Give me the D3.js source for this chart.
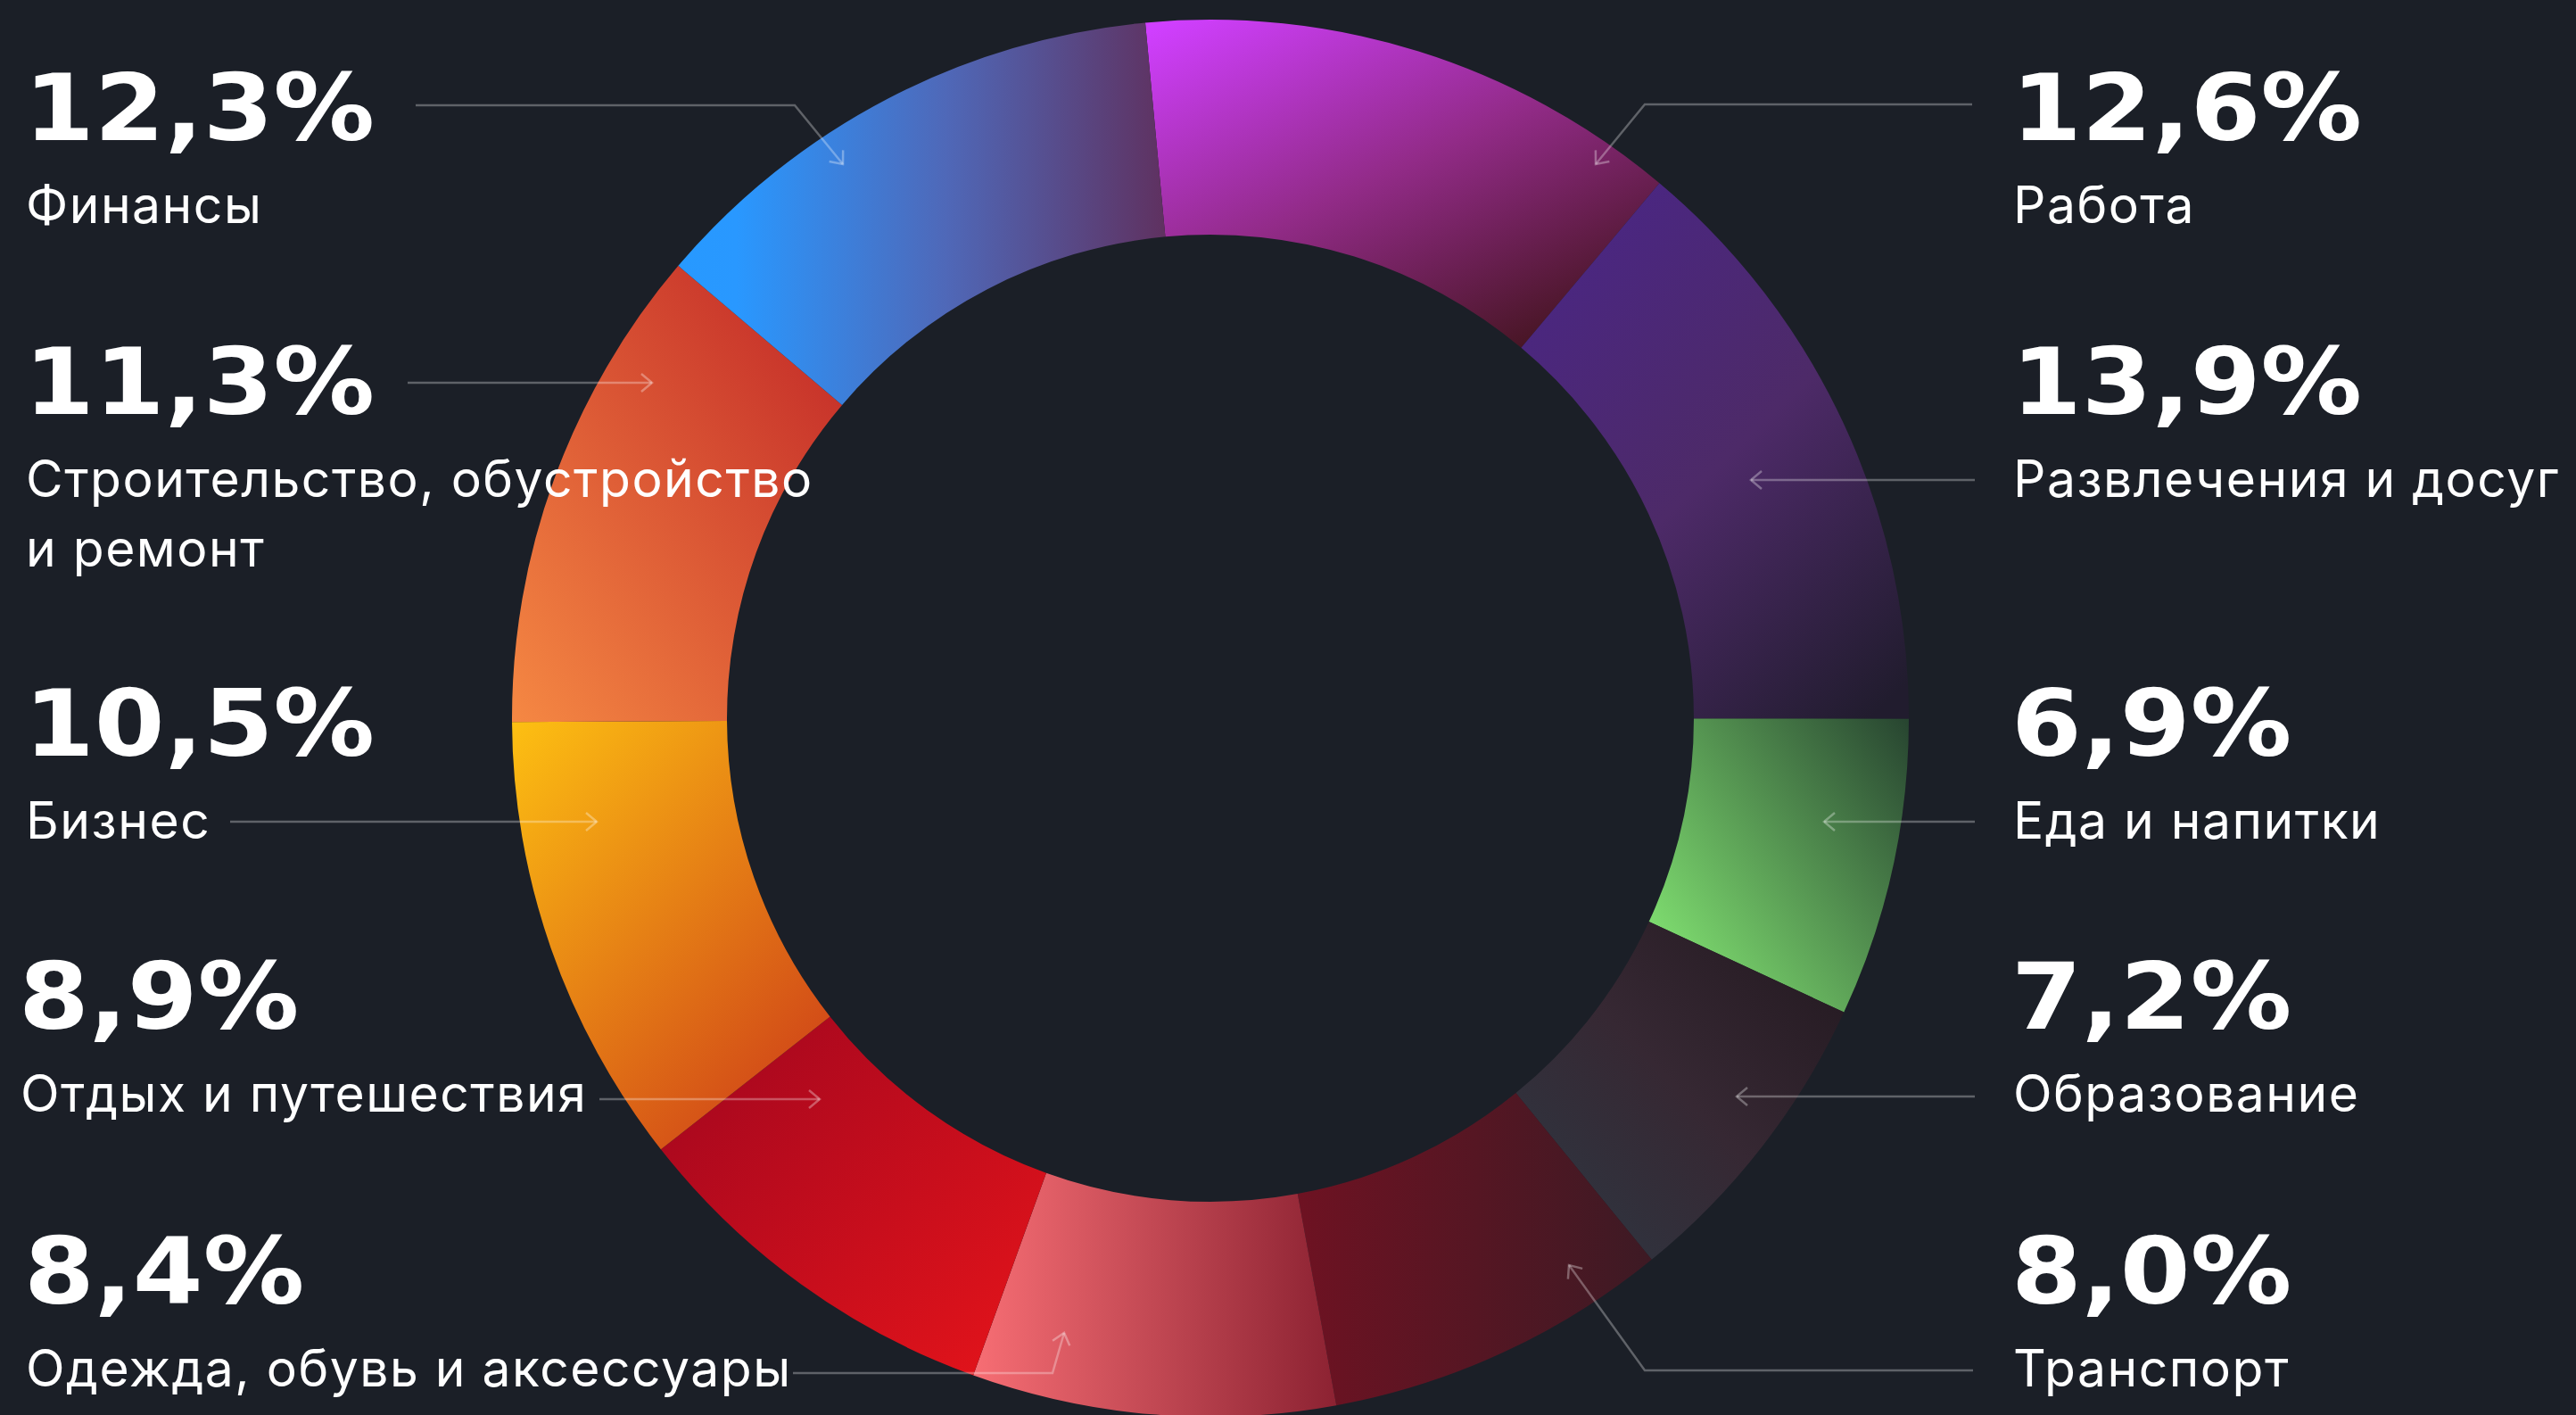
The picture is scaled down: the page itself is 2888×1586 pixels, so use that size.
<!DOCTYPE html>
<html>
<head>
<meta charset="utf-8">
<script src="https://cdn.jsdelivr.net/npm/d3@7.9.0/dist/d3.min.js"></script>
<style>
  html, body { margin: 0; padding: 0; background: #1b1f27; }
  svg { display: block; }
  .pct { font-family: "DejaVu Sans"; font-weight: bold; font-size: 103px; fill: #fff; }
  .lbl { font-family: Inter, "Noto Sans"; font-size: 57px; letter-spacing: 1.5px; fill: #fff; }
  .leader { fill: none; stroke: rgba(255,255,255,0.3); stroke-width: 2.5; }
</style>
</head>
<body>
<svg id="chart"></svg>
<script>
// --- data ---
const categories = [
  'Работа', 'Развлечения и досуг', 'Еда и напитки', 'Образование', 'Транспорт',
  'Одежда, обувь и аксессуары', 'Отдых и путешествия', 'Бизнес',
  'Строительство, обустройство и ремонт', 'Финансы'
];
const values = [12.6, 13.9, 6.9, 7.2, 8.0, 8.4, 8.9, 10.5, 11.3, 12.3];
// label text split into lines as in the picture
const labelLines = [
  ['Работа'], ['Развлечения и досуг'], ['Еда и напитки'], ['Образование'], ['Транспорт'],
  ['Одежда, обувь и аксессуары'], ['Отдых и путешествия'], ['Бизнес'],
  ['Строительство, обустройство', 'и ремонт'], ['Финансы']
];
// gradient stops per slice [offset, colour]
const sliceStops = [
  [[0, '#d03fff'], [0.5, '#922b88'], [1, '#43141e']],
  [[0, '#4a2684'], [0.5, '#4d2a68'], [1, '#211c2e']],
  [[0, '#82e372'], [1, '#274430']],
  [[0, '#2d3843'], [0.5, '#362833'], [1, '#22181f']],
  [[0, '#6e1222'], [1, '#3d1a24']],
  [[0, '#f76e74'], [1, '#8c2232']],
  [[0, '#a0061f'], [1, '#e6141a']],
  [[0, '#fdc012'], [1, '#cf4218']],
  [[0, '#c02526'], [1, '#f58843']],
  [[0, '#2799ff'], [0.12, '#2998ff'], [0.55, '#4f68b8'], [1, '#5f3160']]
];
// gradient direction per slice (bounding box fractions x1,y1,x2,y2)
const sliceDir = [
  [0.05, 0, 0.8, 1], [0.2, 0, 0.9, 1], [0, 0.8, 1, 0], [0, 1, 1, 0], [0, 0, 1, 0],
  [0, 0, 1, 0], [0, 0, 1, 1], [0, 0, 0.8, 1], [1, 0, 0, 1], [0, 0, 1, 0]
];

// --- layout ---
const width = 2888, height = 1586;
const cx = 1357, cy = 805;
const outerR = 783, innerR = 542;
const startAngle = -5.35 * Math.PI / 180;

const side = ['right', 'right', 'right', 'right', 'right', 'left', 'left', 'left', 'left', 'left'];
const row = [0, 1, 2, 3, 4, 4, 3, 2, 1, 0];
const rowY = [157, 464, 847, 1153, 1461];
const leftX = [27, 27, 27, 21, 27];
const rightX = 2255;
const labelGap = 93, lineGap = 78;

// leader lines: points from the text side to the arrow tip
const leaders = [
  [[2211, 117], [1844, 117], [1789, 184]],
  [[2214, 538], [1963, 538]],
  [[2214, 921], [2045, 921]],
  [[2214, 1229], [1947, 1229]],
  [[2212, 1536], [1844, 1536], [1759, 1418]],
  [[889, 1539], [1180, 1539], [1193, 1494]],
  [[672, 1232], [919, 1232]],
  [[258, 921], [669, 921]],
  [[457, 429], [731, 429]],
  [[466, 118], [891, 118], [945, 184]]
];

const svg = d3.select('#chart')
  .attr('width', width)
  .attr('height', height)
  .attr('viewBox', `0 0 ${width} ${height}`);

svg.append('rect').attr('width', width).attr('height', height).attr('fill', '#1b1f27');

const defs = svg.append('defs');

sliceStops.forEach((stops, i) => {
  const [x1, y1, x2, y2] = sliceDir[i];
  const g = defs.append('linearGradient')
    .attr('id', 'grad' + i)
    .attr('x1', x1).attr('y1', y1).attr('x2', x2).attr('y2', y2);
  stops.forEach(([o, c]) => g.append('stop').attr('offset', o).attr('stop-color', c));
});

defs.append('marker')
  .attr('id', 'arrow')
  .attr('markerUnits', 'userSpaceOnUse')
  .attr('viewBox', '-16 -12 20 24')
  .attr('markerWidth', 20).attr('markerHeight', 24)
  .attr('refX', 0).attr('refY', 0)
  .attr('orient', 'auto')
  .append('path')
  .attr('d', 'M-12,-10 L0,0 L-12,10')
  .attr('fill', 'none')
  .attr('stroke', 'rgba(255,255,255,0.32)')
  .attr('stroke-width', 2.5);

// --- donut ---
const pie = d3.pie()
  .sort(null)
  .value(d => d)
  .startAngle(startAngle)
  .endAngle(startAngle + 2 * Math.PI);

const arc = d3.arc().innerRadius(innerR).outerRadius(outerR);

svg.append('g')
  .attr('transform', `translate(${cx},${cy})`)
  .selectAll('path')
  .data(pie(values))
  .join('path')
  .attr('d', arc)
  .attr('fill', (d, i) => `url(#grad${i})`);

// --- leader lines ---
svg.append('g')
  .selectAll('path')
  .data(leaders)
  .join('path')
  .attr('class', 'leader')
  .attr('d', d => d3.line()(d))
  .attr('marker-end', 'url(#arrow)');

// --- labels ---
const fmt = v => v.toFixed(1).replace('.', ',') + '%';

const labels = svg.append('g');
categories.forEach((cat, i) => {
  const r = row[i];
  const x = side[i] === 'left' ? leftX[r] : rightX;
  const y = rowY[r];
  labels.append('text')
    .attr('class', 'pct')
    .attr('transform', `translate(${x},${y}) scale(1.1,1)`)
    .text(fmt(values[i]));
  labelLines[i].forEach((line, k) => {
    labels.append('text')
      .attr('class', 'lbl')
      .attr('x', x + 2)
      .attr('y', y + labelGap + k * lineGap)
      .text(line);
  });
});
</script>
</body>
</html>
